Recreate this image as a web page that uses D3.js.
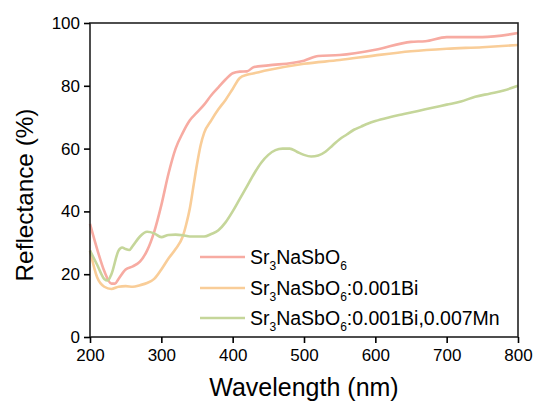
<!DOCTYPE html>
<html>
<head>
<meta charset="utf-8">
<script src="https://cdn.jsdelivr.net/npm/d3@7"></script>
<style>
  body { margin: 0; background: #fff; }
  svg text { font-family: Arial, "Liberation Sans", sans-serif; fill: #000; }
</style>
</head>
<body>
<svg id="chart" width="536" height="408"></svg>
<script>
// reflectance spectra
const wlPure = [200, 210, 220, 230, 235, 240, 250, 260, 270, 280, 290, 300, 310, 320, 330, 340, 350, 360, 370, 380, 390, 400, 410, 420, 430, 450, 500, 520, 550, 600, 650, 670, 700, 750, 800];
const rPure  = [36, 28, 21, 17, 17, 18.5, 21.5, 22.5, 24, 27.5, 33.5, 42, 52, 60, 65, 69, 71.5, 74, 77, 79.5, 82, 84, 84.5, 84.6, 86, 86.5, 88, 89.5, 89.8, 91.5, 94, 94.2, 95.5, 95.5, 96.8];

const wlBi = [200, 210, 220, 230, 240, 250, 260, 270, 280, 290, 300, 310, 320, 330, 335, 340, 345, 350, 355, 360, 370, 380, 390, 400, 410, 420, 430, 450, 500, 550, 600, 650, 700, 750, 800];
const rBi  = [27.5, 19, 16, 15.3, 16, 16.2, 16, 16.5, 17.2, 18.5, 21.5, 25, 28, 32, 36, 41, 48, 55, 61, 65, 69, 72.5, 75.5, 79, 82.5, 83.5, 84, 85, 87, 88.2, 89.7, 91, 91.8, 92.3, 93];

const wlMn = [200, 210, 220, 225, 230, 240, 245, 250, 255, 260, 270, 280, 290, 300, 310, 320, 330, 340, 350, 360, 370, 380, 390, 400, 410, 420, 430, 440, 450, 460, 470, 480, 490, 500, 510, 520, 530, 540, 550, 560, 570, 580, 590, 600, 620, 640, 660, 680, 700, 720, 740, 760, 780, 800];
const rMn  = [27.5, 23, 18.5, 18, 20, 27.5, 28.5, 28, 27.7, 29, 32, 33.5, 33, 31.8, 32.5, 32.6, 32.4, 32, 32, 32, 32.8, 34, 36.5, 40, 44, 48, 52, 55.5, 58, 59.5, 60, 60, 59, 58, 57.5, 57.8, 59, 61, 63, 64.5, 66, 67, 68, 68.8, 70, 71, 72, 73, 74, 75, 76.5, 77.5, 78.5, 80];

const seriesNames = ["Sr3NaSbO6", "Sr3NaSbO6:0.001Bi", "Sr3NaSbO6:0.001Bi,0.007Mn"];
const seriesColors = ["#f7aba2", "#f9cd98", "#c5d69a"];

const xTicks = [200, 300, 400, 500, 600, 700, 800];
const yTicks = [0, 20, 40, 60, 80, 100];

const series = [
  { wl: wlPure, r: rPure },
  { wl: wlBi, r: rBi },
  { wl: wlMn, r: rMn }
];

const svg = d3.select("#chart");
const margin = { left: 90, right: 18, top: 23, bottom: 71 };
const W = 536, H = 408;

const x = d3.scaleLinear().domain([200, 800]).range([margin.left, W - margin.right]);
const y = d3.scaleLinear().domain([0, 100]).range([H - margin.bottom, margin.top]);

const line = d3.line()
  .x(d => x(d[0]))
  .y(d => y(d[1]))
  .curve(d3.curveMonotoneX);

// curves
series.forEach((s, i) => {
  svg.append("path")
    .datum(s.wl.map((w, j) => [w, s.r[j]]))
    .attr("fill", "none")
    .attr("stroke", seriesColors[i])
    .attr("stroke-width", 2.6)
    .attr("stroke-linejoin", "round")
    .attr("d", line);
});

// frame
svg.append("rect")
  .attr("x", x(200)).attr("y", y(100))
  .attr("width", x(800) - x(200)).attr("height", y(0) - y(100))
  .attr("fill", "none").attr("stroke", "#222").attr("stroke-width", 1.6);

// minor + major ticks
const gx = svg.append("g").attr("transform", `translate(0,${y(0)})`);
gx.call(d3.axisBottom(x).tickValues(d3.range(250, 800, 100)).tickSize(4).tickFormat(""));
gx.call(d3.axisBottom(x).tickValues(xTicks).tickSize(6).tickPadding(6).tickFormat(d3.format("d")));

const gy = svg.append("g").attr("transform", `translate(${x(200)},0)`);
gy.call(d3.axisLeft(y).tickValues(d3.range(10, 100, 20)).tickSize(4).tickFormat(""));
gy.call(d3.axisLeft(y).tickValues(yTicks).tickSize(6).tickPadding(4).tickFormat(d3.format("d")));

svg.selectAll(".domain").remove();
svg.selectAll(".tick line").attr("stroke", "#000").attr("stroke-width", 1.6);
svg.selectAll(".tick text").attr("font-size", 17).attr("fill", "#000")
  .style("font-family", "Arial, 'Liberation Sans', sans-serif");

// axis titles
svg.append("text")
  .attr("x", (x(200) + x(800)) / 2).attr("y", 396)
  .attr("text-anchor", "middle").attr("font-size", 25)
  .text("Wavelength (nm)");

svg.append("text")
  .attr("transform", "translate(33,195) rotate(-90)")
  .attr("text-anchor", "middle").attr("font-size", 24.3)
  .text("Reflectance (%)");

// legend
const legY = [257, 288, 318];
seriesNames.forEach((name, i) => {
  svg.append("line")
    .attr("x1", 200).attr("x2", 245)
    .attr("y1", legY[i]).attr("y2", legY[i])
    .attr("stroke", seriesColors[i]).attr("stroke-width", 2.6);
  const t = svg.append("text")
    .attr("x", 250).attr("y", legY[i] + 7).attr("font-size", 19.5);
  // formula digits are subscripts
  const parts = name.match(/^Sr(3)NaSbO(6)(.*)$/);
  t.append("tspan").text("Sr");
  t.append("tspan").attr("font-size", 12).attr("dy", 6).text(parts[1]);
  t.append("tspan").attr("dy", -6).text("NaSbO");
  t.append("tspan").attr("font-size", 12).attr("dy", 6).text(parts[2]);
  if (parts[3]) t.append("tspan").attr("dy", -6).text(parts[3]);
});
</script>
</body>
</html>
